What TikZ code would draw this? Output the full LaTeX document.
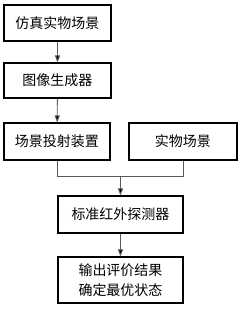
\documentclass[tikz,border=0pt]{standalone}
\usepackage{fontspec}
\setmainfont{Noto Sans CJK SC}
\usetikzlibrary{arrows.meta}
\begin{document}
\begin{tikzpicture}[x=1pt,y=-1pt,
  box/.style={draw=black,line width=1.1pt,minimum width=#1,inner sep=0pt,align=center,font=\fontsize{14pt}{20pt}\selectfont},
  conn/.style={draw=black!65,line width=0.9pt},
  arr/.style={conn,-{Triangle[length=7pt,width=5pt,fill=black]}}]
\useasboundingbox (0,0) rectangle (243,317);
\node[box=107pt,minimum height=36pt] (a) at (57.5,23) {仿真实物场景};
\node[box=107pt,minimum height=35pt] (b) at (57.5,80.5) {图像生成器};
\node[box=106pt,minimum height=37pt] (c) at (57,141.5) {场景投射装置};
\node[box=108pt,minimum height=37pt] (d) at (183,141.5) {实物场景};
\node[box=125pt,minimum height=37pt] (e) at (120.5,214.5) {标准红外探测器};
\node[box=125pt,minimum height=46pt] (f) at (120.5,280) {输出评价结果\\确定最优状态};
\coordinate (m) at (120.5,176);
\draw[arr] (a) -- (b);
\draw[arr] (b) -- (c);
\draw[conn] (c.south) |- (m);
\draw[conn] (d.south) |- (m);
\draw[arr] (m) -- (e);
\draw[arr] (e) -- (f);
\end{tikzpicture}
\end{document}
